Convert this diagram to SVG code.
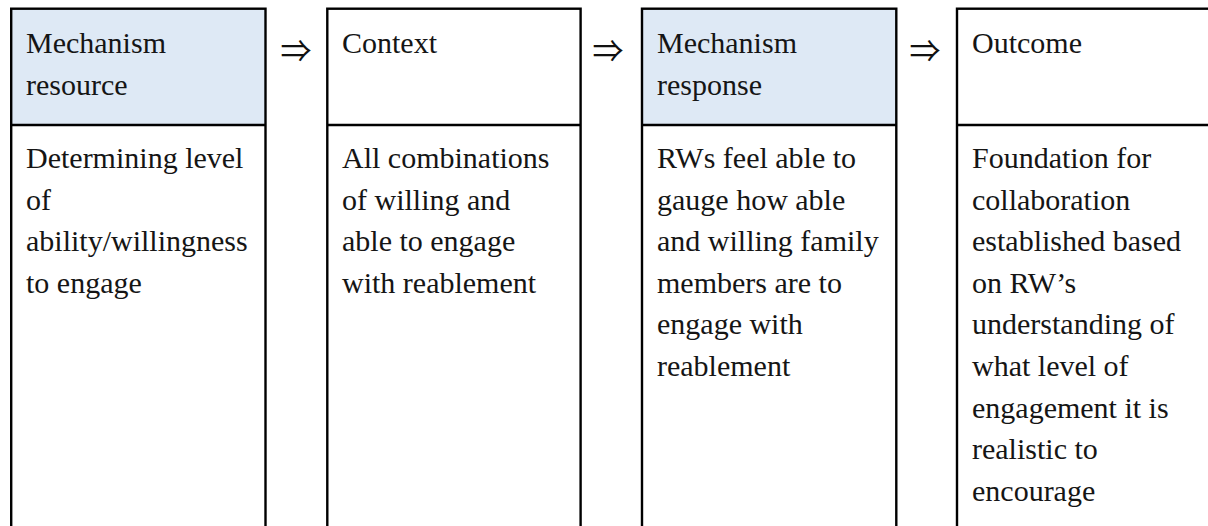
<svg xmlns="http://www.w3.org/2000/svg" width="1208" height="526" viewBox="0 0 1208 526">
  <style>
    .frame { fill: none; stroke: #000; stroke-width: 2.4; }
    .head-tint { fill: #DEE9F5; }
    .rule { stroke: #000; stroke-width: 2.4; }
    .txt { font-family: 'Liberation Serif', 'DejaVu Serif', serif; font-size: 30px; fill: #151515; }
    .arrow { font-family: 'Noto Sans CJK SC', 'DejaVu Sans', sans-serif; font-size: 31px; fill: #111; }
  </style>
  <rect width="1208" height="526" fill="#fff"/>

  <!-- column 1: mechanism resource -->
  <g id="mechanism-resource">
    <rect class="head-tint" x="11.2" y="8.7" width="254.3" height="116.3"/>
    <rect class="frame" x="11.2" y="8.7" width="254.3" height="540"/>
    <line class="rule" x1="11.2" y1="125" x2="265.5" y2="125"/>
    <text class="txt" x="26" y="53">Mechanism</text>
    <text class="txt" x="26" y="94.6">resource</text>
    <text class="txt" x="26" y="168">Determining level</text>
    <text class="txt" x="26" y="209.6">of</text>
    <text class="txt" x="26" y="251.2">ability/willingness</text>
    <text class="txt" x="26" y="292.8">to engage</text>
  </g>

  <!-- column 2: context -->
  <g id="context">
    <rect class="frame" x="327.3" y="8.7" width="253.3" height="540"/>
    <line class="rule" x1="327.3" y1="125" x2="580.6" y2="125"/>
    <text class="txt" x="342" y="53">Context</text>
    <text class="txt" x="342" y="168">All combinations</text>
    <text class="txt" x="342" y="209.6">of willing and</text>
    <text class="txt" x="342" y="251.2">able to engage</text>
    <text class="txt" x="342" y="292.8">with reablement</text>
  </g>

  <!-- column 3: mechanism response -->
  <g id="mechanism-response">
    <rect class="head-tint" x="642" y="8.7" width="254.3" height="116.3"/>
    <rect class="frame" x="642" y="8.7" width="254.3" height="540"/>
    <line class="rule" x1="642" y1="125" x2="896.3" y2="125"/>
    <text class="txt" x="657" y="53">Mechanism</text>
    <text class="txt" x="657" y="94.6">response</text>
    <text class="txt" x="657" y="168">RWs feel able to</text>
    <text class="txt" x="657" y="209.6">gauge how able</text>
    <text class="txt" x="657" y="251.2">and willing family</text>
    <text class="txt" x="657" y="292.8">members are to</text>
    <text class="txt" x="657" y="334.4">engage with</text>
    <text class="txt" x="657" y="376">reablement</text>
  </g>

  <!-- column 4: outcome (runs past the right edge) -->
  <g id="outcome">
    <rect class="frame" x="957" y="8.7" width="254" height="540"/>
    <line class="rule" x1="957" y1="125" x2="1211" y2="125"/>
    <text class="txt" x="972" y="53">Outcome</text>
    <text class="txt" x="972" y="168">Foundation for</text>
    <text class="txt" x="972" y="209.6">collaboration</text>
    <text class="txt" x="972" y="251.2">established based</text>
    <text class="txt" x="972" y="292.8">on RW’s</text>
    <text class="txt" x="972" y="334.4">understanding of</text>
    <text class="txt" x="972" y="376">what level of</text>
    <text class="txt" x="972" y="417.6">engagement it is</text>
    <text class="txt" x="972" y="459.2">realistic to</text>
    <text class="txt" x="972" y="500.8">encourage</text>
  </g>

  <!-- double arrows linking the columns -->
  <g id="connectors">
    <text class="arrow" x="296" y="62" text-anchor="middle">⇒</text>
    <text class="arrow" x="608" y="62" text-anchor="middle">⇒</text>
    <text class="arrow" x="925" y="62" text-anchor="middle">⇒</text>
  </g>
</svg>
